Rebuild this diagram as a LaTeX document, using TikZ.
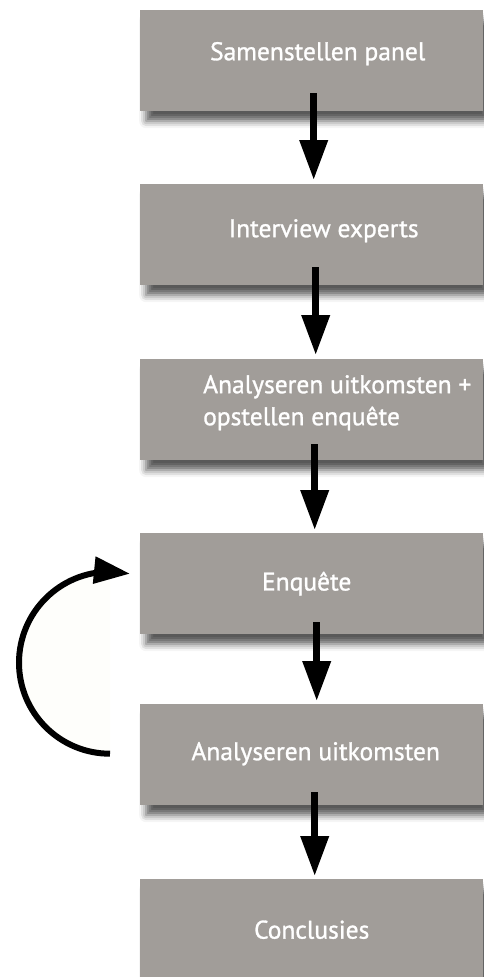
\documentclass[tikz,border=0pt]{standalone}
\usepackage{fontspec}
\setmainfont{PT Sans}[FakeBold=1.1]
\usetikzlibrary{shadows.blur,arrows.meta,calc}
\definecolor{boxgray}{RGB}{161,157,153}
\definecolor{cream}{RGB}{254,254,251}
\begin{document}
\begin{tikzpicture}[x=1pt,y=1pt,
  stage/.style={fill=boxgray, minimum width=343pt, minimum height=101pt,
    anchor=north west, inner sep=0pt,
    blur shadow={shadow xshift=6pt, shadow yshift=-10pt, shadow blur radius=7pt, shadow opacity=65}},
  lbl/.style={text=white, inner sep=0pt, font=\fontsize{25.5}{32}\selectfont},
  flow/.style={line width=7pt, -{Triangle[width=27pt,length=40pt]}},
  loopflow/.style={line width=6pt, -{Triangle[width=26pt,length=36pt]}},
]
\useasboundingbox (0,0) rectangle (483,-977);
\node[stage] (b1) at (140,-10) {};
\node[stage] (b2) at (140,-184) {};
\node[stage] (b3) at (140,-359) {};
\node[stage] (b4) at (140,-533) {};
\node[stage] (b5) at (140,-704) {};
\node[stage] (b6) at (140,-879) {};
\node[lbl] (t1) at ($(b1.center)+(6,7)$) {Samenstellen panel};
\node[lbl] (t2) at ($(b2.center)+(12,4)$) {Interview experts};
\node[lbl, align=left, anchor=west] (t3) at ($(b3.west)+(63,7)$) {Analyseren uitkomsten +\\opstellen enquête};
\node[lbl] (t4) at ($(b4.center)+(-5,0)$) {Enquête};
\node[lbl] (t5) at ($(b5.center)+(4,1)$) {Analyseren uitkomsten};
\node[lbl] (t6) at ($(b6.center)+(0,0)$) {Conclusies};
% vertical arrows
\draw[flow] ($(b1.south)+(2,18)$) -- ($(b2.north)+(2,4)$);
\draw[flow] ($(b2.south)+(4,18)$) -- ($(b3.north)+(4,4)$);
\draw[flow] ($(b3.south)+(3,16)$) -- ($(b4.north)+(3,3)$);
\draw[flow] ($(b4.south)+(5,12)$) -- ($(b5.north)+(5,3)$);
\draw[flow] ($(b5.south)+(3,13)$) -- ($(b6.north)+(3,3)$);
% loop arrow
\coordinate (ls) at ($(b5.west)+(-30,1)$);
\coordinate (lt) at ($(b4.west)+(-10,10)$);
\fill[cream] (ls) arc[start angle=-90, end angle=-270, radius=91] -- cycle;
\draw[loopflow] (ls) arc[start angle=-90, end angle=-270, radius=91] -- (lt);
\end{tikzpicture}
\end{document}
